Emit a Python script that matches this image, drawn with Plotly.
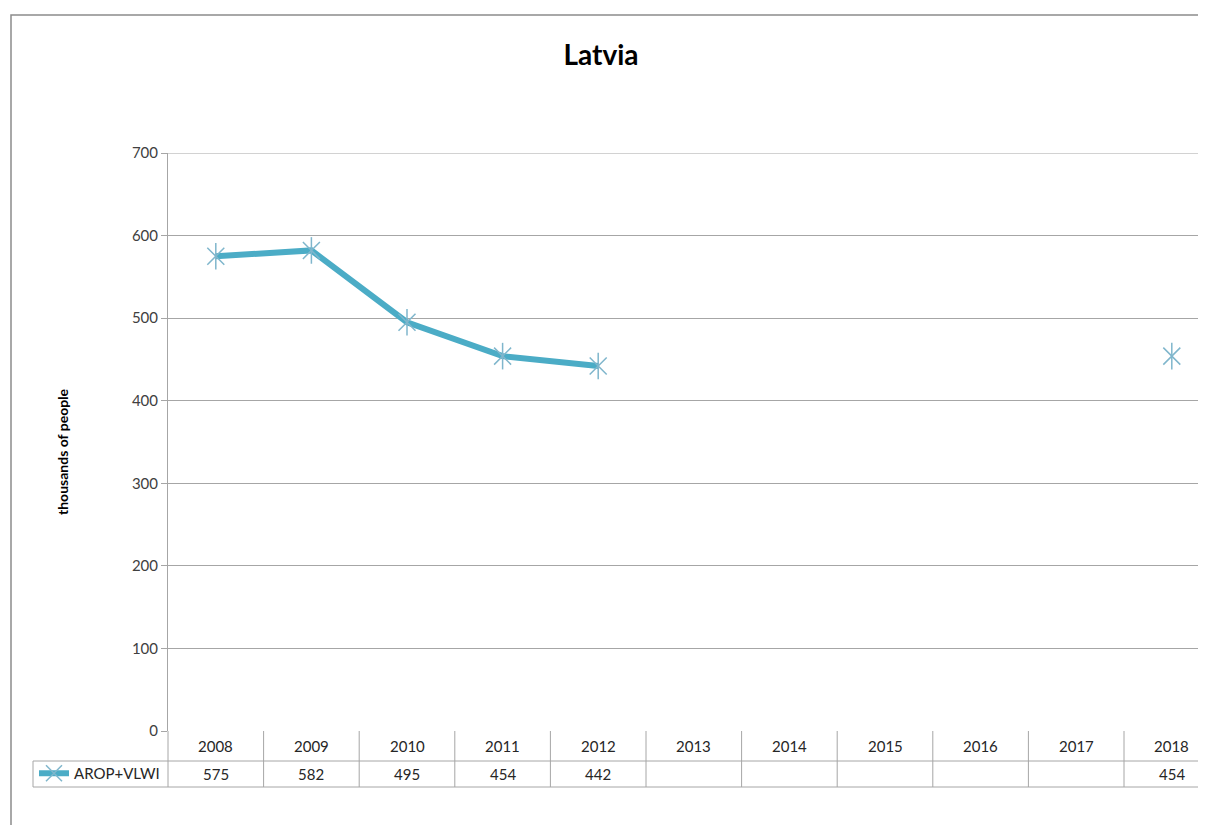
import plotly.graph_objects as go

# dane
lata = [2008, 2009, 2010, 2011, 2012, 2013, 2014, 2015, 2016, 2017, 2018]
arop_vlwi = [575, 582, 495, 454, 442, None, None, None, None, None, 454]
nazwa_serii = "AROP+VLWI"
tytul = "Latvia"
opis_osi_y = "thousands of people"
y_ticki = [0, 100, 200, 300, 400, 500, 600, 700]

# strona ma margines 8px, wiec wszystko przesuwamy o 8
OFF = 8
W, H = 1206 - OFF, 825 - OFF
L, R, T, B = 168 - OFF, 0, 153 - OFF, 825 - 731
pw, ph = W - L - R, H - T - B

def px_x(p):
    return (p - OFF - L) / pw

def px_y(p):
    return (H - B - (p - OFF)) / ph

FONT = "Lato"
SZARY = "#a6a6a6"
KOLOR = "#4bacc6"
KOLOR_ZNACZNIKA = "#7fb6cc"

fig = go.Figure()

fig.add_trace(go.Scatter(
    x=lata, y=arop_vlwi, mode="lines+markers", name=nazwa_serii,
    connectgaps=False,
    line=dict(color=KOLOR, width=6),
    marker=dict(symbol="x-thin-open", size=17, color=KOLOR_ZNACZNIKA,
                line=dict(color=KOLOR_ZNACZNIKA, width=1.5)),
))
fig.add_trace(go.Scatter(
    x=lata, y=arop_vlwi, mode="markers", showlegend=False, hoverinfo="skip",
    marker=dict(symbol="line-ns-open", size=19, color=KOLOR_ZNACZNIKA,
                line=dict(color=KOLOR_ZNACZNIKA, width=1.5)),
))

# tabela pod wykresem
shapes = []
annotations = []
y_h = px_y(761)
y_d = px_y(787)
for rok, wartosc in zip(lata, arop_vlwi):
    annotations.append(dict(x=rok, y=(0 + y_h) / 2, xref="x", yref="paper",
                            xanchor="center", yanchor="middle",
                            text=str(rok), showarrow=False,
                            font=dict(family=FONT, size=15, color="#262626")))
    if wartosc is not None:
        annotations.append(dict(x=rok, y=(y_h + y_d) / 2, xref="x", yref="paper",
                                xanchor="center", yanchor="middle",
                                text=str(wartosc), showarrow=False,
                                font=dict(family=FONT, size=15, color="#262626")))
for rok in lata[:-1]:
    shapes.append(dict(type="line", xref="x", yref="paper", x0=rok + 0.5, x1=rok + 0.5,
                       y0=0, y1=y_d, line=dict(color=SZARY, width=1)))
shapes.append(dict(type="line", xref="paper", yref="paper", x0=0, x1=0, y0=0, y1=y_d,
                   line=dict(color=SZARY, width=1)))
shapes.append(dict(type="line", xref="paper", yref="paper", x0=px_x(33), x1=px_x(33),
                   y0=y_h, y1=y_d, line=dict(color=SZARY, width=1)))
for yy in (y_h, y_d):
    shapes.append(dict(type="line", xref="paper", yref="paper", x0=px_x(33), x1=1.02,
                       y0=yy, y1=yy, line=dict(color=SZARY, width=1)))
# gorna linia siatki (700)
shapes.append(dict(type="line", xref="paper", yref="y", x0=0, x1=1, y0=y_ticki[-1],
                   y1=y_ticki[-1], line=dict(color=SZARY, width=1)))
# ramka wykresu
shapes.append(dict(type="rect", xref="paper", yref="paper", x0=px_x(11), x1=1.05,
                   y0=px_y(15), y1=px_y(850), line=dict(color="#8c8c8c", width=1.5)))

annotations.append(dict(x=px_x(62), y=px_y(452), xref="paper", yref="paper",
                        xanchor="center", yanchor="middle",
                        text="<b>" + opis_osi_y + "</b>", textangle=-90, showarrow=False,
                        font=dict(family=FONT, size=14, color="#000000")))

fig.update_layout(
    width=W, height=H,
    margin=dict(l=L, r=R, t=T, b=B),
    paper_bgcolor="white", plot_bgcolor="white",
    title=dict(text="<b>" + tytul + "</b>", x=(601 - OFF) / W, xanchor="center",
               y=1 - (55 - OFF) / H, yanchor="middle", yref="container",
               font=dict(family=FONT, size=28, color="#000000")),
    xaxis=dict(range=[2007.5, 2007.5 + pw / 95.6], showticklabels=False,
               showgrid=False, zeroline=False, showline=False, ticks=""),
    yaxis=dict(range=[0, 700], tickvals=y_ticki, showgrid=True, gridcolor=SZARY,
               gridwidth=1, zeroline=False, showline=True, linecolor=SZARY,
               ticks="outside", ticklen=6, tickcolor=SZARY,
               tickfont=dict(family=FONT, size=15, color="#404040")),
    showlegend=True,
    legend=dict(x=px_x(34), y=px_y(757), xanchor="left", yanchor="top",
                bgcolor="rgba(0,0,0,0)", font=dict(family=FONT, size=15, color="#262626"),
                itemwidth=30, tracegroupgap=0),
    shapes=shapes,
    annotations=annotations,
)

fig.write_html("out.html")
